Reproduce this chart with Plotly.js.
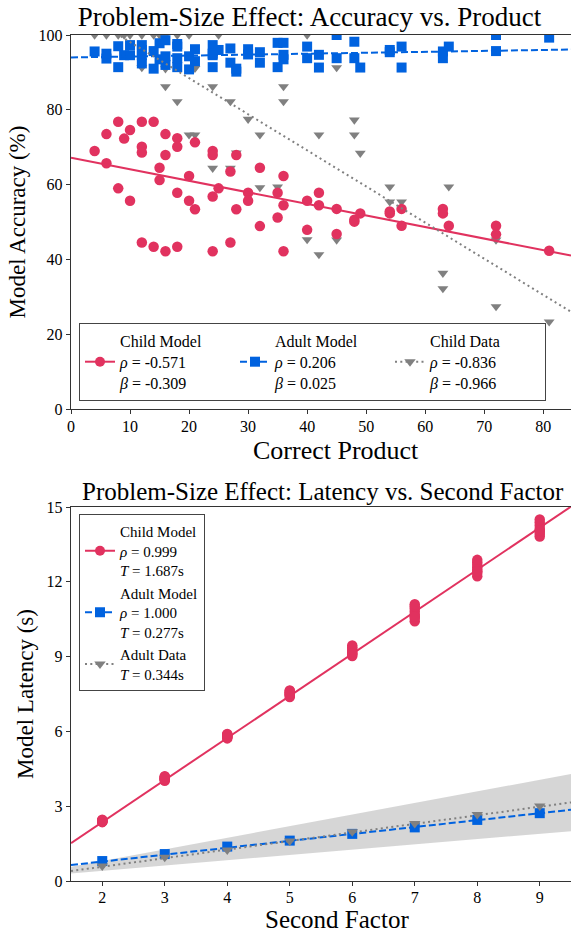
<!DOCTYPE html>
<html><head><meta charset="utf-8">
<script src="https://cdn.plot.ly/plotly-3.0.1.min.js"></script>
<style>html,body{margin:0;padding:0;background:#fff}#chart{width:571px;height:932px}</style>
</head><body><div id="chart"></div>
<script>
// ---------- Top chart: accuracy vs correct product ----------
const products = [4, 6,6, 8,8, 9, 10,10, 12,12,12,12, 14,14, 15,15, 16,16,16, 18,18,18,18,
  20,20, 21,21, 24,24,24,24, 25, 27,27, 28,28, 30,30, 32,32, 35,35, 36,36,36, 40,40, 42,42,
  45,45, 48,48, 49, 54,54, 56,56, 63,63, 64, 72,72, 81];
const childModelAcc = [69.0, 73.5,65.7, 76.8,59.0, 72.3, 74.6,55.7, 76.8,70.1,68.6,44.5, 76.8,43.4,
  64.5,61.2, 73.5,67.9,42.2, 72.4,70.1,57.8,43.4, 62.3,55.7, 71.3,53.4, 69.0,67.9,56.8,42.2, 59.0,
  63.5,44.5, 67.9,53.4, 57.8,55.7, 64.5,48.9, 57.8,51.2, 62.3,54.5,42.2, 55.7,47.9, 57.8,54.5,
  53.5,46.8, 50.1,50.6, 52.3, 52.3,52.8, 53.5,49.0, 53.5,52.3, 49.0, 49.0,46.7, 42.3];
const adultModelAcc = [95.6, 93.7,95.0, 97.0,91.4, 94.6, 97.3,94.6, 97.3,94.6,96.0,92.4, 91.0,95.7,
  97.8,93.5, 98.6,94.3,92.0, 96.9,91.4,93.8,97.6, 94.3,90.8, 93.0,96.2, 97.3,91.4,94.6,95.0, 96.0,
  96.4,92.6, 90.2,91.0, 94.8,96.2, 95.4,92.6, 97.9,91.4, 94.7,97.9,93.5, 96.9,93.8, 94.7,91.3,
  100.0,93.8, 98.2,93.8, 91.3, 96.0,95.4, 96.9,91.3, 95.6,93.8, 96.9, 100.0,95.7, 99.3];
const childDataProducts = [4, 6, 8, 9, 10, 12,12, 14, 15, 16,16,16, 18,18, 20,20, 21,21, 24,24, 25,
  27,27, 28, 30, 32,32, 35, 36,36, 40,40, 42,42, 45,45, 48,48, 49, 54,54, 56, 63,63, 64, 72,72, 81];
const childDataAcc = [100, 100, 100, 100, 100, 100,91.3, 100, 100, 100,91.0,86.2, 100,82.2, 100,73.3,
  91.1,73.3, 86.2,64.4, 100, 82.2,64.4, 68.5, 77.5, 73.3,59.2, 59.4, 86.2,82.2, 100,45.3, 73.3,41.3,
  91.3,45.2, 77.3,73.3, 68.4, 59.4,55.4, 55.4, 36.3,32.2, 59.4, 45.2,27.4, 23.3];
// fitted lines: [intercept, slope]
const accFitChild = [67.2, -0.309];
const accFitAdult = [94.0, 0.025];
const accFitChildData = [107.8, -0.966];
const accRange = [0, 84.7];
const accLabels = ['Child Model<br><i>ρ</i> = -0.571<br><i>β</i> = -0.309',
                   'Adult Model<br><i>ρ</i> = 0.206<br><i>β</i> = 0.025',
                   'Child Data<br><i>ρ</i> = -0.836<br><i>β</i> = -0.966'];

// ---------- Bottom chart: latency vs second factor ----------
const secondFactor = [2, 3, 4, 5, 6, 7, 8, 9];
const childLatency = [
  [2.36, 2.38, 2.40, 2.42, 2.44, 2.38, 2.41, 2.46],
  [4.02, 4.06, 4.10, 4.14, 4.18, 4.08, 4.12, 4.20],
  [5.72, 5.76, 5.80, 5.84, 5.88, 5.78, 5.82, 5.90],
  [7.38, 7.44, 7.50, 7.56, 7.62, 7.48, 7.54, 7.64],
  [9.02, 9.08, 9.15, 9.22, 9.30, 9.38, 9.45, 9.12],
  [10.42, 10.55, 10.68, 10.80, 10.92, 11.02, 11.10, 10.60],
  [12.22, 12.35, 12.48, 12.58, 12.68, 12.78, 12.88, 12.42],
  [13.82, 13.92, 14.02, 14.12, 14.25, 14.38, 14.50, 14.05]];
const adultModelLatency = [0.80, 1.08, 1.38, 1.62, 1.89, 2.15, 2.45, 2.72];
const adultDataLatency = [0.60, 0.95, 1.24, 1.60, 1.98, 2.31, 2.67, 3.01];
const latFitChild = [-1.01, 1.687];
const latFitAdult = [0.225, 0.277];
const latFitAdultData = [-0.116, 0.344];
const bandX = [1.5, 9.5];
const bandLow = [0.30, 2.00];
const bandHigh = [0.57, 4.29];
const latRange = [1.5, 9.5];
const latLabels = ['Child Model<br><i>ρ</i> = 0.999<br><i>T</i> = 1.687s',
                   'Adult Model<br><i>ρ</i> = 1.000<br><i>T</i> = 0.277s',
                   'Adult Data<br><i>T</i> = 0.344s'];

// ---------- styling ----------
const RED = '#e1325f', BLUE = '#0062df', GRAY = '#808080';
const FONT = 'Liberation Serif, Times New Roman, serif';
const fitLine = (fit, range) => range.map(x => fit[0] + fit[1] * x);

const traces = [];
traces.push({x: childDataProducts, y: childDataAcc, type: 'scatter', mode: 'markers', xaxis: 'x', yaxis: 'y',
  marker: {symbol: 'triangle-down', size: 9.5, color: GRAY}, showlegend: false, hoverinfo: 'skip'});
traces.push({x: products, y: adultModelAcc, type: 'scatter', mode: 'markers', xaxis: 'x', yaxis: 'y',
  marker: {symbol: 'square', size: 10, color: BLUE}, showlegend: false});
traces.push({x: products, y: childModelAcc, type: 'scatter', mode: 'markers', xaxis: 'x', yaxis: 'y',
  marker: {symbol: 'circle', size: 10.5, color: RED}, showlegend: false});
traces.push({x: accRange, y: fitLine(accFitChild, accRange), type: 'scatter', mode: 'lines', xaxis: 'x', yaxis: 'y',
  line: {color: RED, width: 2}, showlegend: false});
traces.push({x: accRange, y: fitLine(accFitAdult, accRange), type: 'scatter', mode: 'lines', xaxis: 'x', yaxis: 'y',
  line: {color: BLUE, width: 2, dash: '7px,3px'}, showlegend: false});
traces.push({x: accRange, y: fitLine(accFitChildData, accRange), type: 'scatter', mode: 'lines', xaxis: 'x', yaxis: 'y',
  line: {color: GRAY, width: 2, dash: '2px,3.3px'}, showlegend: false});
const legStyles = [
  {line: {color: RED, width: 2}, marker: {symbol: 'circle', size: 10, color: RED}},
  {line: {color: BLUE, width: 2, dash: '7px,3px'}, marker: {symbol: 'square', size: 10, color: BLUE}},
  {line: {color: GRAY, width: 2, dash: '2px,3.3px'}, marker: {symbol: 'triangle-down', size: 10, color: GRAY}}];
accLabels.forEach((name, i) => traces.push(Object.assign({x: [null], y: [null], type: 'scatter', mode: 'lines+markers',
  xaxis: 'x', yaxis: 'y', name: name, legend: 'legend', showlegend: true}, legStyles[i])));

traces.push({x: bandX.concat(bandX.slice().reverse()), y: bandLow.concat(bandHigh.slice().reverse()),
  type: 'scatter', mode: 'lines', fill: 'toself', fillcolor: 'rgba(200,200,200,0.75)', line: {width: 0},
  xaxis: 'x2', yaxis: 'y2', showlegend: false, hoverinfo: 'skip'});
const childX = [], childY = [];
secondFactor.forEach((f, i) => childLatency[i].forEach(v => { childX.push(f); childY.push(v); }));
traces.push({x: latRange, y: fitLine(latFitChild, latRange), type: 'scatter', mode: 'lines', xaxis: 'x2', yaxis: 'y2',
  line: {color: RED, width: 2}, showlegend: false});
traces.push({x: childX, y: childY, type: 'scatter', mode: 'markers', xaxis: 'x2', yaxis: 'y2',
  marker: {symbol: 'circle', size: 10.5, color: RED}, showlegend: false});
traces.push({x: latRange, y: fitLine(latFitAdult, latRange), type: 'scatter', mode: 'lines', xaxis: 'x2', yaxis: 'y2',
  line: {color: BLUE, width: 2, dash: '7px,3px'}, showlegend: false});
traces.push({x: secondFactor, y: adultModelLatency, type: 'scatter', mode: 'markers', xaxis: 'x2', yaxis: 'y2',
  marker: {symbol: 'square', size: 10, color: BLUE}, showlegend: false});
traces.push({x: latRange, y: fitLine(latFitAdultData, latRange), type: 'scatter', mode: 'lines', xaxis: 'x2', yaxis: 'y2',
  line: {color: GRAY, width: 2, dash: '2px,3.3px'}, showlegend: false});
traces.push({x: secondFactor, y: adultDataLatency, type: 'scatter', mode: 'markers', xaxis: 'x2', yaxis: 'y2',
  marker: {symbol: 'triangle-down', size: 10, color: GRAY}, showlegend: false});
latLabels.forEach((name, i) => traces.push(Object.assign({x: [null], y: [null], type: 'scatter', mode: 'lines+markers',
  xaxis: 'x2', yaxis: 'y2', name: name, legend: 'legend2', showlegend: true}, legStyles[i])));

const axisBase = {showline: true, linecolor: '#333', linewidth: 1.2, mirror: true, ticks: 'outside', ticklen: 4,
  tickwidth: 1, tickcolor: '#333', showgrid: false, zeroline: false,
  tickfont: {family: FONT, size: 16, color: '#000'}};
const yTitleFont = {family: FONT, size: 23, color: '#000'};
// pixel -> paper helpers (plot area: left 71, top 35, 500 x 846)
const px = p => (p - 71) / 500, py = p => (881 - p) / 846;

const layout = {
  width: 571, height: 932,
  margin: {l: 71, r: 0, t: 35, b: 51},
  paper_bgcolor: '#fff', plot_bgcolor: '#fff',
  font: {family: FONT, color: '#000'},
  title: {text: 'Problem-Size Effect: Accuracy vs. Product', font: {family: FONT, size: 27, color: '#000'},
    xref: 'paper', x: 0.477, xanchor: 'center', yref: 'container', y: 1 - 17 / 932, yanchor: 'middle'},
  xaxis: Object.assign({}, axisBase, {domain: [0, 1], anchor: 'y', range: accRange,
    tickvals: [0,10,20,30,40,50,60,70,80], ticklabelstandoff: -1}),
  yaxis: Object.assign({}, axisBase, {domain: [1 - 374 / 846, 1], anchor: 'x', range: [0, 100], tickvals: [0,20,40,60,80,100],
    title: {text: 'Model Accuracy (%)', font: yTitleFont, standoff: 6}}),
  xaxis2: Object.assign({}, axisBase, {domain: [0, 1], anchor: 'y2', range: latRange, tickvals: secondFactor,
    ticklabelstandoff: -2}),
  yaxis2: Object.assign({}, axisBase, {domain: [0, 374 / 846], anchor: 'x2', range: [0, 15], tickvals: [0,3,6,9,12,15],
    title: {text: 'Model Latency (s)', font: yTitleFont, standoff: 6}}),
  legend: {orientation: 'h', x: 0.016, xanchor: 'left', y: py(401), yanchor: 'bottom',
    bgcolor: '#fff', bordercolor: '#444', borderwidth: 1, font: {family: FONT, size: 16, color: '#000'},
    entrywidth: 110, entrywidthmode: 'pixels', valign: 'middle'},
  legend2: {orientation: 'v', x: 0.016, xanchor: 'left', y: py(514), yanchor: 'top',
    bgcolor: '#fff', bordercolor: '#444', borderwidth: 1, font: {family: FONT, size: 15, color: '#000'},
    valign: 'middle'},
  annotations: [
    {text: 'Problem-Size Effect: Latency vs. Second Factor', xref: 'paper', yref: 'paper',
      x: 0.504, y: py(491), xanchor: 'center', yanchor: 'middle', showarrow: false,
      font: {family: FONT, size: 25, color: '#000'}},
    {text: 'Correct Product', xref: 'paper', yref: 'paper', x: px(336), y: py(450),
      xanchor: 'center', yanchor: 'middle', showarrow: false, font: {family: FONT, size: 26, color: '#000'}},
    {text: 'Second Factor', xref: 'paper', yref: 'paper', x: px(336.5), y: py(919),
      xanchor: 'center', yanchor: 'middle', showarrow: false, font: {family: FONT, size: 25, color: '#000'}}]
};

Plotly.newPlot('chart', traces, layout, {displayModeBar: false, staticPlot: true});
</script>
</body></html>
